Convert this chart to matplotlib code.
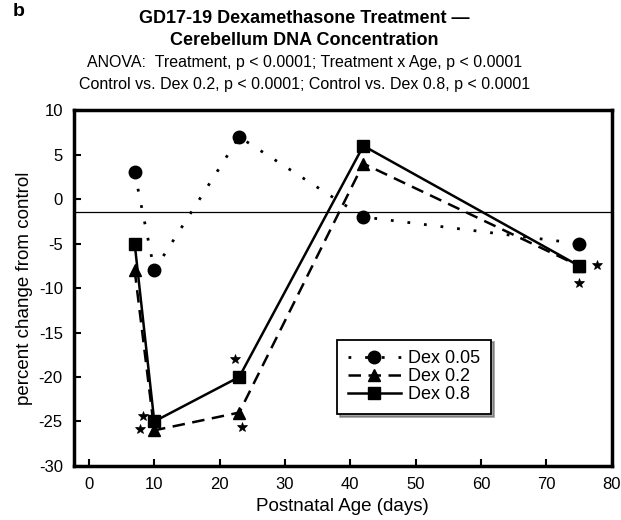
import matplotlib
matplotlib.use('Agg')
import matplotlib.pyplot as plt
from matplotlib.transforms import offset_copy

plt.rcParams['font.family'] = ['Liberation Sans', 'DejaVu Sans']
plt.rcParams['axes.unicode_minus'] = False

# Postnatal age (days) and percent change from control per dose
age = [7, 10, 23, 42, 75]
dex_005 = [3, -8, 7, -2, -5]
dex_02 = [-8, -26, -24, 4, -7.5]
dex_08 = [-5, -25, -20, 6, -7.5]
ref_level = -1.5

# significance stars: (series, point index, x offset pt, y offset pt)
stars = [
    ('dex_08', 1, -8, 4),
    ('dex_02', 1, -10, 0.7),
    ('dex_08', 2, -3, 12.7),
    ('dex_02', 2, 2, -10.3),
    ('dex_08', 4, 12.6, 0.5),
    ('dex_08', 4, 0, -12.7),
]
series = {'dex_005': dex_005, 'dex_02': dex_02, 'dex_08': dex_08}

fig = plt.figure(figsize=(6.21, 5.2), dpi=100)
ax = fig.add_axes([0.119, 0.104, 0.866, 0.684])

ax.axhline(ref_level, color='black', linewidth=0.9, zorder=1)

ax.plot(age, dex_005, color='black', linestyle=(0, (1, 5)), linewidth=2,
        marker='o', markersize=9, label='Dex 0.05')
ax.plot(age, dex_02, color='black', linestyle=(0, (5, 3)), linewidth=1.8,
        marker='^', markersize=8, label='Dex 0.2')
ax.plot(age, dex_08, color='black', linestyle='-', linewidth=1.8,
        marker='s', markersize=9, label='Dex 0.8')

# stars sit a fixed distance (in points) away from the point they flag
for name, i, dx, dy in stars:
    tr = offset_copy(ax.transData, fig=fig, x=dx, y=dy, units='points')
    ax.plot([age[i]], [series[name][i]], transform=tr, linestyle='none',
            marker='*', markersize=7.5, color='black', markeredgewidth=0.5)

ax.set_xlim(-2.3, 80)
ax.set_ylim(-30, 10)
ax.set_xticks(range(0, 81, 10))
ax.set_yticks(range(-30, 11, 5))
ax.tick_params(direction='in', length=5, width=1.5, labelsize=12,
               top=False, right=False, pad=8)
for s in ax.spines.values():
    s.set_linewidth(2.5)

ax.set_xlabel('Postnatal Age (days)', fontsize=13.5, labelpad=4)
ax.set_ylabel('percent change from control', fontsize=13.5, labelpad=4)

leg = ax.legend(loc='upper left', bbox_to_anchor=(0.49, 0.355), fontsize=13,
                frameon=True, fancybox=False, shadow=True, handlelength=2.9,
                borderpad=0.6, labelspacing=0.05, handletextpad=0.4,
                borderaxespad=0)
leg.get_frame().set_edgecolor('black')
leg.get_frame().set_linewidth(1.3)

fig.text(0.03, 0.977, 'b', fontsize=14, fontweight='bold', ha='center', va='center')
fig.text(0.49, 0.965, 'GD17-19 Dexamethasone Treatment \u2014', fontsize=13,
         fontweight='bold', ha='center', va='center')
fig.text(0.49, 0.923, 'Cerebellum DNA Concentration', fontsize=13,
         fontweight='bold', ha='center', va='center')
fig.text(0.49, 0.880, 'ANOVA:  Treatment, p < 0.0001; Treatment x Age, p < 0.0001',
         fontsize=11.5, ha='center', va='center')
fig.text(0.49, 0.837, 'Control vs. Dex 0.2, p < 0.0001; Control vs. Dex 0.8, p < 0.0001',
         fontsize=11.5, ha='center', va='center')

fig.savefig('out.png', dpi=100)
